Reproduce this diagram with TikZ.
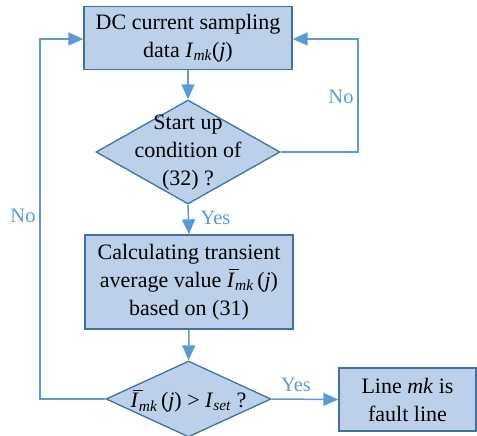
\documentclass[tikz,border=0pt]{standalone}
\usepackage{fontspec}
\setmainfont{Liberation Serif}
\usetikzlibrary{shapes.geometric,arrows.meta}
\definecolor{boxfill}{HTML}{BDD0EA}
\definecolor{boxline}{HTML}{41719C}
\definecolor{conn}{HTML}{5B9BD5}
\newcommand{\Ibar}{\leavevmode\rlap{\hspace{2.5pt}\raisebox{17pt}{\rule{10pt}{1.1pt}}}\textit{I}}
\tikzset{
  procbox/.style={draw=boxline, fill=boxfill, line width=1.3pt, align=center, inner sep=0pt},
  decbox/.style={diamond, draw=boxline, fill=boxfill, line width=1.3pt, align=center, inner sep=0pt, aspect=1.77},
  conline/.style={draw=conn, line width=1.5pt, -{Triangle[length=15pt,width=13pt]}},
  lbl/.style={text=conn, font=\fontsize{20.5}{24}\selectfont}
}
\begin{document}
\begin{tikzpicture}[x=1pt,y=-1pt,font=\fontsize{22}{28}\selectfont]
\useasboundingbox (0,0) rectangle (477,436);
\node[procbox, minimum width=208pt, minimum height=63pt] (b1) at (188,38)
  {DC current sampling\\data \textit{I}\textsubscript{\itshape mk}(\textit{j})};
\node[decbox, minimum width=184pt, minimum height=104pt] (d1) at (188,152) {};
\node[align=center] at (188,153) {Start up\\condition of\\(32) ?};
\node[procbox, minimum width=208pt, minimum height=94pt] (b2) at (189,282)
  {Calculating transient\\average value \Ibar\textsubscript{\itshape mk}\,(\textit{j})\\based on (31)};
\node[decbox, minimum width=165pt, minimum height=76pt] (d2) at (188.5,399) {};
\node at (188.5,401) {\Ibar\textsubscript{\itshape mk}\,(\textit{j}) > \textit{I}\textsubscript{\itshape set} ?};
\node[procbox, minimum width=137pt, minimum height=63pt] (b3) at (407.5,399.5)
  {Line \textit{mk} is\\fault line};
\coordinate (lc) at (40,39);
\coordinate (rc) at (358,39);
\draw[conline] (b1.south) -- (d1.north);
\draw[conline] (d1.south) -- (b2.north);
\draw[conline] (b2.south) -- (d2.north);
\draw[conline] (d2.east) -- (b3.west);
\draw[conline] (d2.west) -| (lc) -- (b1.west |- lc);
\draw[conline] (d1.east) -| (rc) -- (b1.east |- rc);
\node[lbl, anchor=west] at (197,218) {Yes};
\node[lbl] at (296,385) {Yes};
\node[lbl] at (23,216) {No};
\node[lbl] at (341,97) {No};
\end{tikzpicture}
\end{document}
